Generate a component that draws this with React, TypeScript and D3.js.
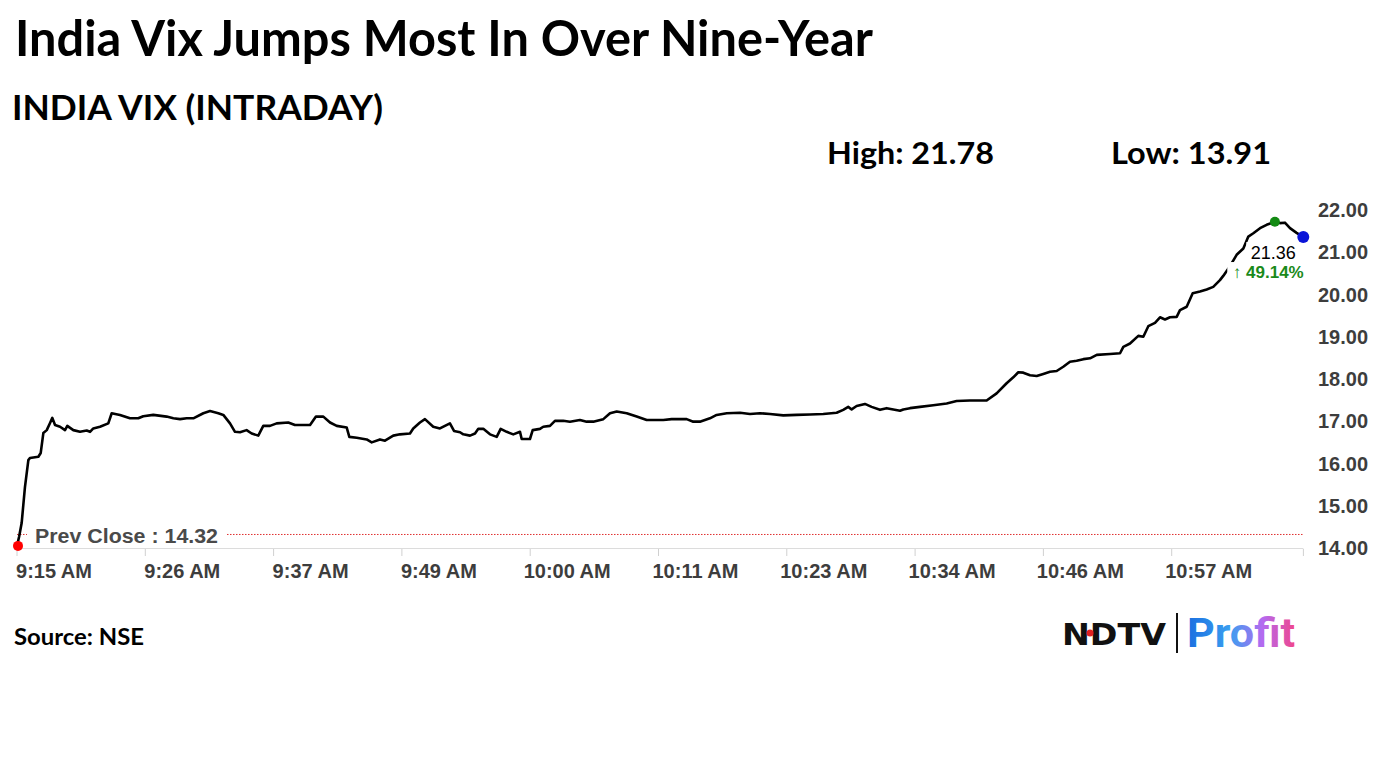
import React from "react";
import * as d3 from "d3";

// minutes since 9:15 AM
const times: number[] = [
  0, 0.18, 0.41, 0.7, 1.0, 1.14, 1.88, 2.09, 2.32, 2.62, 2.91, 3.11, 3.35, 3.79, 4.23, 4.43, 4.96, 5.55, 6.14, 6.43,
  6.72, 7.31, 8.04, 8.34, 9.07, 9.95, 10.68, 11.12, 12.0, 13.18, 13.77, 14.36, 14.95, 15.53, 16.41, 17.0, 17.73, 18.17,
  18.76, 19.2, 19.64, 20.22, 20.67, 21.25, 21.69, 22.28, 22.87, 23.89, 24.48, 25.81, 26.33, 26.98, 27.57, 28.16, 29.04,
  29.27, 29.92, 30.8, 31.24, 31.97, 32.41, 33.14, 33.73, 34.61, 34.9, 35.49, 35.93, 36.66, 37.25, 38.13, 38.49, 39.02,
  39.31, 39.9, 40.34, 40.63, 41.07, 41.66, 42.25, 42.6, 43.13, 43.71, 44.3, 44.45, 45.18, 45.42, 46.06, 46.35, 46.94,
  47.38, 48.11, 48.7, 49.58, 50.17, 50.76, 51.64, 52.23, 52.82, 53.7, 54.58, 55.46, 56.04, 56.92, 57.66, 58.98, 59.56,
  60.15, 61.03, 61.62, 62.51, 63.68, 64.56, 65.44, 66.32, 67.49, 68.67, 69.84, 71.01, 72.19, 72.77, 73.21, 73.51, 73.95,
  74.68, 75.27, 76.01, 76.59, 77.18, 77.77, 78.06, 78.65, 79.53, 80.7, 81.88, 82.76, 83.93, 85.4, 86.28, 87.16, 87.75,
  88.19, 88.63, 89.22, 89.81, 90.39, 90.98, 91.57, 92.15, 92.74, 93.33, 93.92, 94.51, 95.1, 96.27, 97.15, 97.44, 98.03,
  98.76, 99.2, 99.64, 100.23, 100.67, 101.11, 101.55, 102.14, 102.43, 103.02, 103.55, 104.19, 104.78, 105.36, 105.95,
  106.24, 106.83, 107.42, 108.01, 108.45, 108.89, 109.48, 110.06, 110.79, 111.23, 111.67, 112.12, 112.7, 113.29,
];

const vixValues: number[] = [
  14.05, 14.26, 14.59, 15.44, 16.08, 16.13, 16.16, 16.25, 16.72, 16.79, 16.96, 17.08, 16.91, 16.87, 16.79, 16.89, 16.79,
  16.75, 16.78, 16.75, 16.83, 16.87, 16.95, 17.19, 17.15, 17.07, 17.07, 17.12, 17.15, 17.11, 17.07, 17.05, 17.07, 17.07,
  17.19, 17.24, 17.19, 17.15, 16.95, 16.75, 16.74, 16.79, 16.71, 16.66, 16.89, 16.89, 16.95, 16.97, 16.91, 16.91, 17.11,
  17.11, 16.97, 16.89, 16.85, 16.63, 16.61, 16.57, 16.5, 16.57, 16.54, 16.66, 16.69, 16.71, 16.83, 16.97, 17.05, 16.87,
  16.83, 16.95, 16.77, 16.74, 16.69, 16.66, 16.71, 16.82, 16.82, 16.69, 16.63, 16.82, 16.75, 16.69, 16.75, 16.58, 16.58,
  16.79, 16.82, 16.87, 16.89, 17.01, 17.01, 16.99, 17.03, 16.99, 16.99, 17.05, 17.19, 17.23, 17.19, 17.11, 17.03, 17.03,
  17.03, 17.05, 17.05, 16.99, 16.99, 17.07, 17.15, 17.19, 17.2, 17.17, 17.19, 17.17, 17.14, 17.15, 17.16, 17.17, 17.2,
  17.27, 17.34, 17.28, 17.36, 17.41, 17.34, 17.27, 17.31, 17.28, 17.25, 17.28, 17.31, 17.34, 17.38, 17.42, 17.48, 17.49,
  17.49, 17.66, 17.9, 18.04, 18.16, 18.15, 18.09, 18.07, 18.12, 18.17, 18.19, 18.29, 18.41, 18.43, 18.47, 18.49, 18.57,
  18.59, 18.61, 18.76, 18.84, 19.02, 19.0, 19.25, 19.33, 19.46, 19.41, 19.46, 19.47, 19.63, 19.71, 20.03, 20.07, 20.12,
  20.18, 20.34, 20.44, 20.67, 20.94, 21.09, 21.37, 21.45, 21.57, 21.65, 21.72, 21.69, 21.7, 21.57, 21.46, 21.36,
];

const xTickMinutes: number[] = [0, 11.3, 22.6, 33.9, 45.2, 56.5, 67.8, 79.1, 90.4, 101.7];
const xTickLabels: string[] = [
  "9:15 AM", "9:26 AM", "9:37 AM", "9:49 AM", "10:00 AM", "10:11 AM", "10:23 AM", "10:34 AM", "10:46 AM", "10:57 AM",
];
const yTicks: number[] = [14, 15, 16, 17, 18, 19, 20, 21, 22];

const prevClose = 14.32;
const dayHigh = 21.78;
const dayLow = 13.91;
const lastValue = 21.36;
const changePct = 49.14;

const title = "India Vix Jumps Most In Over Nine-Year";
const subtitle = "INDIA VIX (INTRADAY)";
const source = "Source: NSE";

export default function App() {
  const W = 1382;
  const H = 777;
  const x = d3.scaleLinear().domain([0, 113.3]).range([17, 1303.4]);
  const y = d3.scaleLinear().domain([14, 22]).range([548, 210]);
  const data = times.map((t, i) => ({ t, v: vixValues[i] }));
  const line = d3
    .line<{ t: number; v: number }>()
    .x((d) => x(d.t))
    .y((d) => y(d.v))
    .curve(d3.curveLinear);

  const first = data[0];
  const last = data[data.length - 1];
  const maxPt = data.reduce((a, b) => (b.v > a.v ? b : a), data[0]);

  const axisFont = "'Liberation Sans', Arial, sans-serif";
  const titleFont = "Lato, 'Open Sans', sans-serif";

  const lx = x(last.t);
  const ly = y(last.v);

  return (
    <svg width={W} height={H} style={{ position: "absolute", left: 0, top: 0, background: "#fff" }}>
      <defs>
        <linearGradient id="profitGrad" x1="0" x2="1" y1="0" y2="0">
          <stop offset="0%" stopColor="#1a6fe0" />
          <stop offset="40%" stopColor="#3a9ff0" />
          <stop offset="70%" stopColor="#b46af0" />
          <stop offset="100%" stopColor="#f0468c" />
        </linearGradient>
      </defs>
      <rect x={0} y={0} width={W} height={H} fill="#fff" />

      <text x={15} y={56} fontFamily={titleFont} fontWeight={700} fontSize={49} textLength={858} lengthAdjust="spacingAndGlyphs" fill="#000">
        {title}
      </text>
      <text x={12} y={120} fontFamily={titleFont} fontWeight={700} fontSize={35} textLength={371} lengthAdjust="spacingAndGlyphs" fill="#000">
        {subtitle}
      </text>
      <text x={827} y={164} fontFamily={titleFont} fontWeight={700} fontSize={31} textLength={167} lengthAdjust="spacingAndGlyphs" fill="#000">
        {`High: ${dayHigh.toFixed(2)}`}
      </text>
      <text x={1111} y={164} fontFamily={titleFont} fontWeight={700} fontSize={31} textLength={160} lengthAdjust="spacingAndGlyphs" fill="#000">
        {`Low: ${dayLow.toFixed(2)}`}
      </text>

      {/* x axis */}
      <line x1={17} x2={1303.4} y1={548.5} y2={548.5} stroke="#dcdcdc" strokeWidth={1} />
      {[...xTickMinutes, 113.3].map((t, i) => (
        <line key={"xt" + i} x1={x(t)} x2={x(t)} y1={549} y2={556} stroke="#d0d0d0" strokeWidth={1} />
      ))}
      {xTickMinutes.map((t, i) => (
        <text key={"xl" + i} x={x(t) + 37} y={578} textAnchor="middle" fontFamily={axisFont} fontWeight={700} fontSize={20} fill="#3d3d3d">
          {xTickLabels[i]}
        </text>
      ))}

      {/* y axis labels */}
      {yTicks.map((v) => (
        <text key={"yl" + v} x={1318} y={y(v)} dy="0.36em" fontFamily={axisFont} fontWeight={700} fontSize={20} fill="#3d3d3d">
          {v.toFixed(2)}
        </text>
      ))}

      {/* prev close */}
      <line x1={17} x2={1303.4} y1={y(prevClose)} y2={y(prevClose)} stroke="#e03030" strokeWidth={1} strokeDasharray="1.5,1.5" />
      <rect x={27} y={524} width={199} height={24} fill="#fff" />
      <text x={35} y={543} fontFamily={axisFont} fontWeight={700} fontSize={20} fill="#4a4a4a" textLength={183} lengthAdjust="spacingAndGlyphs">
        {`Prev Close : ${prevClose.toFixed(2)}`}
      </text>

      {/* line */}
      <path d={line(data) || ""} fill="none" stroke="#000" strokeWidth={2.6} strokeLinejoin="round" />

      {/* last value label */}
      <rect x={lx - 57} y={ly + 5} width={54} height={20} fill="#fff" />
      <rect x={lx - 76} y={ly + 25} width={84} height={20} fill="#fff" />
      <text x={lx - 30} y={ly + 22} textAnchor="middle" fontFamily={axisFont} fontSize={18} fill="#000">
        {lastValue.toFixed(2)}
      </text>
      <text x={lx - 35} y={ly + 41} textAnchor="middle" fontFamily={axisFont} fontWeight={700} fontSize={17} fill="#1a8a1a">
        {`\u2191 ${changePct.toFixed(2)}%`}
      </text>

      {/* markers */}
      <circle cx={x(first.t) + 1} cy={y(first.v)} r={5} fill="#ff0000" />
      <circle cx={x(maxPt.t)} cy={y(maxPt.v)} r={5} fill="#138a13" />
      <circle cx={lx} cy={ly} r={6} fill="#0a14d8" />

      {/* footer */}
      <text x={14} y={645} fontFamily={titleFont} fontWeight={700} fontSize={22} textLength={130} lengthAdjust="spacingAndGlyphs" fill="#000">
        {source}
      </text>

      {/* logo */}
      <text x={1062} y={645} fontFamily="'DejaVu Sans', sans-serif" fontWeight={900} fontSize={30} textLength={104} lengthAdjust="spacingAndGlyphs" fill="#111">
        NDTV
      </text>
      <circle cx={1090} cy={633} r={3.5} fill="#e02020" />
      <line x1={1177} x2={1177} y1={613} y2={653} stroke="#111" strokeWidth={2} />
      <text x={1187} y={647} fontFamily="Roboto, 'Noto Sans', sans-serif" fontWeight={700} fontSize={40} textLength={108} lengthAdjust="spacingAndGlyphs" fill="url(#profitGrad)">
        Profit
      </text>
    </svg>
  );
}
